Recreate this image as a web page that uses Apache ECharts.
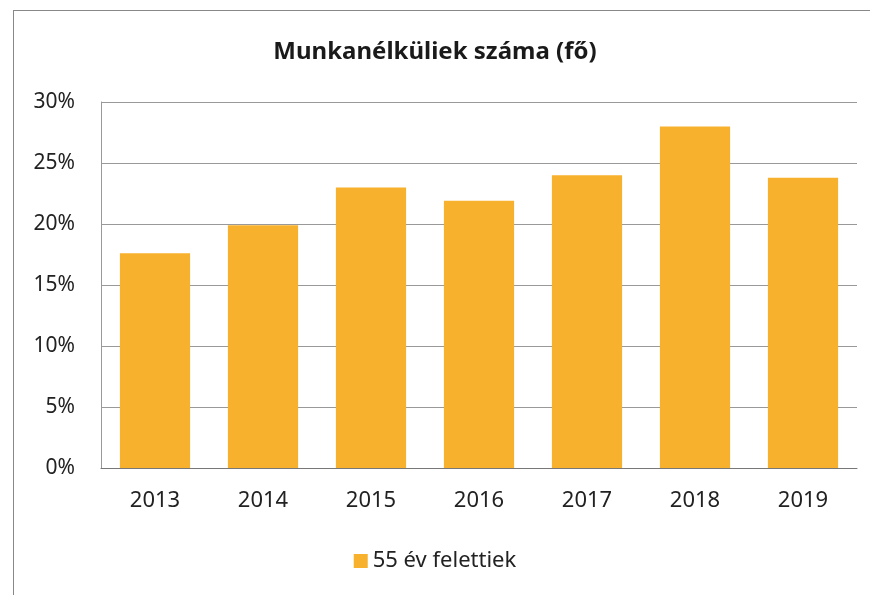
<!DOCTYPE html>
<html>
<head>
<meta charset="utf-8">
<script src="https://cdn.jsdelivr.net/npm/echarts@6/dist/echarts.min.js"></script>
<style>
  html, body { margin: 0; padding: 0; background: #fff; }
  #frame { position: absolute; left: 13px; top: 10px; width: 900px; height: 700px; border-left: 1px solid #888; border-top: 1px solid #888; }
  #chart { position: absolute; left: 0; top: 0; width: 870px; height: 595px; }
</style>
</head>
<body>
<div id="frame"></div>
<div id="chart"></div>
<script>
// évek és értékek (%)
const years = ['2013', '2014', '2015', '2016', '2017', '2018', '2019'];
const over55 = [17.6, 19.9, 23.0, 21.9, 24.0, 28.0, 23.8];
const seriesName = '55 év felettiek';
const titleText = 'Munkanélküliek száma (fő)';

let myChart = echarts.init(document.getElementById('chart'));
myChart.setOption({
  textStyle: { fontFamily: 'Noto Sans' },
  title: {
    text: titleText,
    left: 'center',
    top: 35,
    textStyle: { fontSize: 24, fontWeight: 'bold', color: '#1a1a1a' }
  },
  legend: {
    data: [seriesName],
    bottom: 18,
    left: 'center',
    itemWidth: 14,
    itemHeight: 14,
    itemGap: 5,
    icon: 'rect',
    textStyle: { fontSize: 22, color: '#222' }
  },
  grid: {
    left: 101,
    right: 13,
    top: 102,
    bottom: 127
  },
  xAxis: {
    type: 'category',
    data: years,
    axisTick: { show: false },
    axisLine: { lineStyle: { color: '#777', width: 1 } },
    axisLabel: { fontSize: 22, color: '#222', margin: 22 }
  },
  yAxis: {
    type: 'value',
    min: 0,
    max: 30,
    interval: 5,
    axisLine: { show: true, lineStyle: { color: '#999' } },
    axisLabel: { formatter: '{value}%', fontSize: 21, color: '#222', margin: 26 },
    splitLine: { lineStyle: { color: '#999', width: 1 } }
  },
  series: [{
    name: seriesName,
    type: 'bar',
    data: over55,
    barCategoryGap: '35%',
    itemStyle: { color: '#F8B12C' }
  }]
});
</script>
</body>
</html>
